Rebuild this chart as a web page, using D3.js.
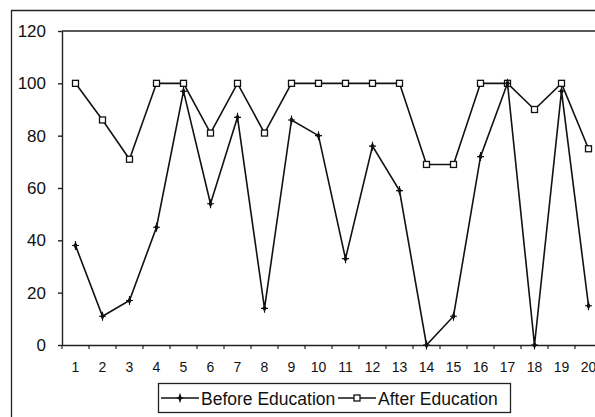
<!DOCTYPE html>
<html><head><meta charset="utf-8">
<script src="https://cdn.jsdelivr.net/npm/d3@7"></script>
<style>html,body{margin:0;background:#fff;overflow:hidden}svg{display:block}</style>
</head><body>
<script>
const categories = ["1","2","3","4","5","6","7","8","9","10","11","12","13","14","15","16","17","18","19","20"];
const beforeEducation = [38,11,17,45,97,54,87,14,86,80,33,76,59,0,11,72,100,0,97,15];
const afterEducation = [100,86,71,100,100,81,100,81,100,100,100,100,100,69,69,100,100,90,100,75];
const yTicks = [0,20,40,60,80,100,120];

(function(){
const W=595,H=417;
const svg=d3.select("body").append("svg").attr("width",W).attr("height",H)
  .style("font-family","Arial, 'Liberation Sans', sans-serif");

// outer chart border (top and left edges visible in the crop)
svg.append("path").attr("d",`M${W},10.5H11.5V${H}`)
  .attr("fill","none").attr("stroke","#222").attr("stroke-width",1.3);

const pLeft=62,pTop=31,pBottom=345,step=27;
const x=d3.scaleBand().domain(categories).range([pLeft,pLeft+step*categories.length]);
const y=d3.scaleLinear().domain([0,120]).range([pBottom,pTop]);

// plot area top edge
svg.append("path").attr("d",`M${pLeft},${pTop}H${W}`)
  .attr("fill","none").attr("stroke","#222").attr("stroke-width",1.4);

const yAxis=svg.append("g").attr("transform",`translate(${pLeft},0)`)
  .call(d3.axisLeft(y).tickValues(yTicks).tickSize(4).tickSizeOuter(0).tickPadding(12));
yAxis.selectAll("text").attr("font-size",17).attr("fill","#111");
yAxis.selectAll("line,path").attr("stroke","#222").attr("stroke-width",1.4);

const xAxis=svg.append("g").attr("transform",`translate(0,${pBottom})`)
  .call(d3.axisBottom(x).tickSizeOuter(0).tickSize(0).tickPadding(17));
xAxis.selectAll("text").attr("font-size",14).attr("fill","#111");
xAxis.select(".domain").attr("stroke","#222").attr("stroke-width",1.4);
xAxis.selectAll(".sep").data(d3.range(categories.length+1)).enter().append("line")
  .attr("x1",i=>pLeft+i*step).attr("x2",i=>pLeft+i*step).attr("y1",0).attr("y2",4)
  .attr("stroke","#222").attr("stroke-width",1.2);

const cx=d=>x(d)+x.bandwidth()/2;
const line=d3.line().x(d=>cx(d[0])).y(d=>y(d[1]));

function plotSeries(vals, marker){
  const pts=categories.map((c,i)=>[c,vals[i]]);
  svg.append("path").datum(pts).attr("d",line).attr("fill","none")
    .attr("stroke","#111").attr("stroke-width",1.6);
  const g=svg.append("g");
  pts.forEach(p=>marker(g,cx(p[0]),y(p[1])));
}
function diamond(g,px,py){
  g.append("path").attr("d",d3.symbol(d3.symbolDiamond,16)()).attr("transform",`translate(${px},${py})`)
    .attr("fill","#111");
  g.append("path").attr("d",`M${px-3.5},${py}H${px+3.5}M${px},${py-4.5}V${py+4.5}`).attr("stroke","#111").attr("stroke-width",1.1);
}
function square(g,px,py){
  g.append("rect").attr("x",px-3).attr("y",py-3).attr("width",6).attr("height",6)
    .attr("fill","#fff").attr("stroke","#111").attr("stroke-width",1.3);
}
plotSeries(afterEducation,square);
plotSeries(beforeEducation,diamond);

// legend
const lg=svg.append("g");
lg.append("rect").attr("x",158.5).attr("y",383.5).attr("width",352).attr("height",29)
  .attr("fill","#fff").attr("stroke","#222").attr("stroke-width",1.3);
const items=[["Before Education",diamond,161],["After Education",square,338]];
items.forEach(([t,m,lx])=>{
  lg.append("line").attr("x1",lx).attr("x2",lx+38).attr("y1",398).attr("y2",398).attr("stroke","#111").attr("stroke-width",1.4);
  m(lg,lx+19,398);
  lg.append("text").attr("x",lx+40).attr("y",405).attr("font-size",17.5).attr("fill","#111").text(t);
});
})();
</script>
</body></html>
